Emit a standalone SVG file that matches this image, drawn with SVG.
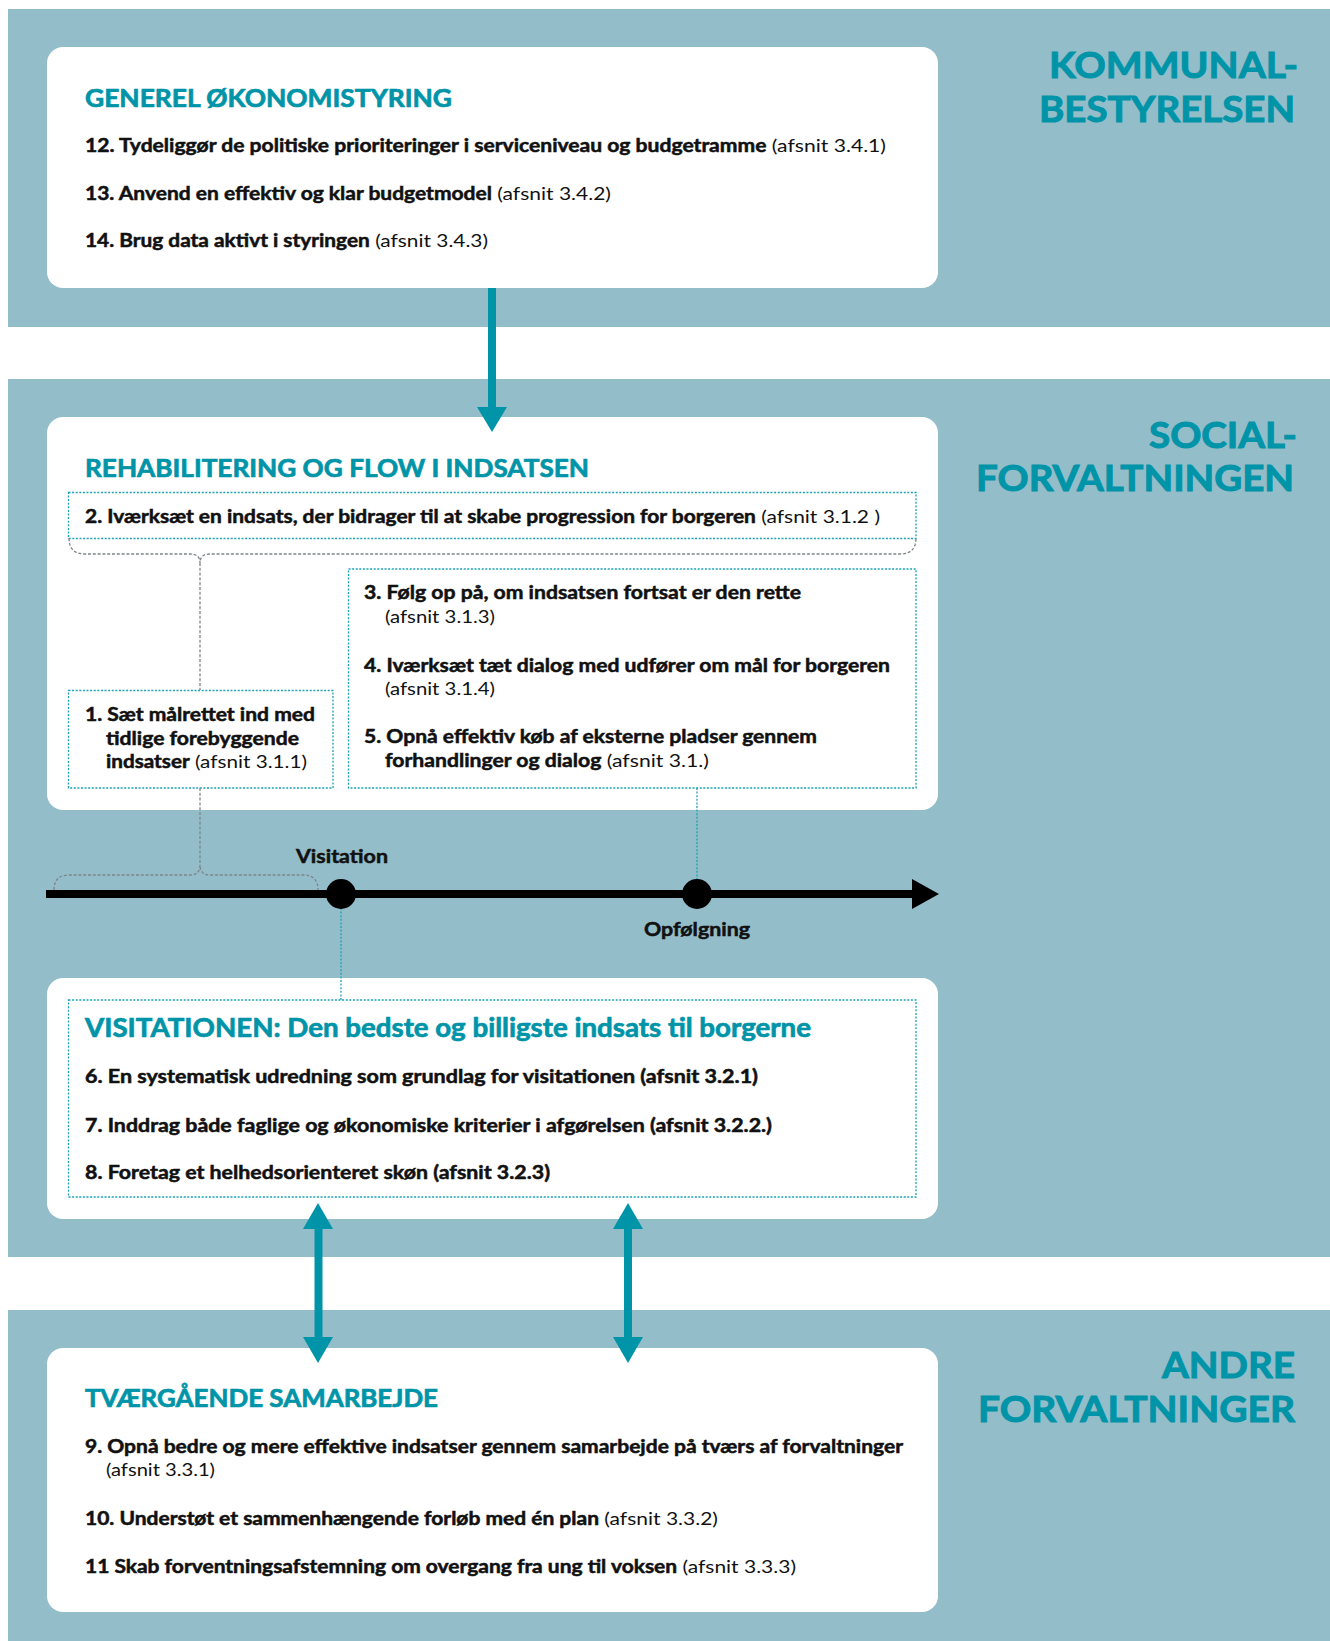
<svg xmlns="http://www.w3.org/2000/svg" width="1330" height="1641" viewBox="0 0 1330 1641">
<style>
.band{fill:#94bdca}
.box{fill:#ffffff}
.frame{fill:none;stroke:#1aa2b4;stroke-width:1.3;stroke-dasharray:2 1.6}
.brace{fill:none;stroke:#7f8589;stroke-width:1.3;stroke-dasharray:3 1.8}
.tealdot{fill:none;stroke:#1aa2b4;stroke-width:1.3;stroke-dasharray:2 1.6}
.teal{fill:#0094a8}
.side{font-family:Lato,"Open Sans","Liberation Sans",sans-serif;font-weight:700;font-size:37px;fill:#0094a8;stroke:#0094a8;stroke-width:1;text-anchor:end}
.head{font-family:Lato,"Open Sans","Liberation Sans",sans-serif;font-weight:700;font-size:24px;fill:#0094a8;stroke:#0094a8;stroke-width:0.7}
.t{font-family:Lato,"Open Sans","Liberation Sans",sans-serif;font-weight:700;font-size:18px;fill:#111111;stroke:#111111;stroke-width:0.5}
.r{font-weight:400;stroke:none}
.lbl{font-family:Lato,"Open Sans","Liberation Sans",sans-serif;font-weight:700;font-size:19px;fill:#111111;stroke:#111111;stroke-width:0.5;text-anchor:middle}
</style>

<g id="bands">
<rect class="band" x="8" y="9" width="1322" height="318"/>
<rect class="band" x="8" y="379" width="1322" height="878"/>
<rect class="band" x="8" y="1310" width="1322" height="331"/>
</g>

<g id="label-kommunalbestyrelsen">
<text class="side" x="1298" y="78" textLength="249" lengthAdjust="spacingAndGlyphs">KOMMUNAL-</text>
<text class="side" x="1295" y="122" textLength="256" lengthAdjust="spacingAndGlyphs">BESTYRELSEN</text>
</g>
<g id="label-socialforvaltningen">
<text class="side" x="1297" y="448" textLength="148" lengthAdjust="spacingAndGlyphs">SOCIAL-</text>
<text class="side" x="1294" y="491" textLength="318" lengthAdjust="spacingAndGlyphs">FORVALTNINGEN</text>
</g>
<g id="label-andre">
<text class="side" x="1295" y="1378" textLength="133" lengthAdjust="spacingAndGlyphs">ANDRE</text>
<text class="side" x="1295" y="1422" textLength="317" lengthAdjust="spacingAndGlyphs">FORVALTNINGER</text>
</g>

<g id="box-generel">
<rect class="box" x="47" y="47" width="891" height="241" rx="16"/>
<text class="head" x="85" y="107" textLength="367" lengthAdjust="spacingAndGlyphs">GENEREL ØKONOMISTYRING</text>
<text class="t" x="85" y="152" textLength="801" lengthAdjust="spacingAndGlyphs">12. Tydeliggør de politiske prioriteringer i serviceniveau og budgetramme<tspan class="r"> (afsnit 3.4.1)</tspan></text>
<text class="t" x="85" y="200" textLength="526" lengthAdjust="spacingAndGlyphs">13. Anvend en effektiv og klar budgetmodel<tspan class="r"> (afsnit 3.4.2)</tspan></text>
<text class="t" x="85" y="247" textLength="403" lengthAdjust="spacingAndGlyphs">14. Brug data aktivt i styringen<tspan class="r"> (afsnit 3.4.3)</tspan></text>
</g>

<g id="box-rehabilitering">
<rect class="box" x="47" y="417" width="891" height="393" rx="16"/>
<text class="head" x="85" y="477" textLength="504" lengthAdjust="spacingAndGlyphs">REHABILITERING OG FLOW I INDSATSEN</text>
</g>

<g id="item-2">
<rect class="frame" x="68.5" y="492.5" width="847.5" height="46"/>
<text class="t" x="85" y="523" textLength="795" lengthAdjust="spacingAndGlyphs">2. Iværksæt en indsats, der bidrager til at skabe progression for borgeren<tspan class="r"> (afsnit 3.1.2 )</tspan></text>
</g>

<g id="item-1">
<rect class="frame" x="68.5" y="690.5" width="264.5" height="97.5"/>
<text class="t" x="85" y="721" textLength="230" lengthAdjust="spacingAndGlyphs">1. Sæt målrettet ind med</text>
<text class="t" x="106" y="745" textLength="193" lengthAdjust="spacingAndGlyphs">tidlige forebyggende</text>
<text class="t" x="106" y="768" textLength="201" lengthAdjust="spacingAndGlyphs">indsatser<tspan class="r"> (afsnit 3.1.1)</tspan></text>
</g>

<g id="items-3-5">
<rect class="frame" x="348.5" y="569" width="567.5" height="219"/>
<text class="t" x="364" y="599" textLength="437" lengthAdjust="spacingAndGlyphs">3. Følg op på, om indsatsen fortsat er den rette</text>
<text class="t r" x="385" y="623" textLength="110" lengthAdjust="spacingAndGlyphs">(afsnit 3.1.3)</text>
<text class="t" x="364" y="672" textLength="526" lengthAdjust="spacingAndGlyphs">4. Iværksæt tæt dialog med udfører om mål for borgeren</text>
<text class="t r" x="385" y="695" textLength="110" lengthAdjust="spacingAndGlyphs">(afsnit 3.1.4)</text>
<text class="t" x="364" y="743" textLength="453" lengthAdjust="spacingAndGlyphs">5. Opnå effektiv køb af eksterne pladser gennem</text>
<text class="t" x="385" y="767" textLength="324" lengthAdjust="spacingAndGlyphs">forhandlinger og dialog<tspan class="r"> (afsnit 3.1.)</tspan></text>
</g>

<g id="box-visitationen">
<rect class="box" x="47" y="978" width="891" height="241" rx="16"/>
<rect class="frame" x="68.5" y="1000" width="847.5" height="197"/>
<text class="head" x="85" y="1037" style="font-size:27px" textLength="726" lengthAdjust="spacingAndGlyphs">VISITATIONEN: Den bedste og billigste indsats til borgerne</text>
<text class="t" x="85" y="1083" textLength="673" lengthAdjust="spacingAndGlyphs">6. En systematisk udredning som grundlag for visitationen (afsnit 3.2.1)</text>
<text class="t" x="85" y="1132" textLength="687" lengthAdjust="spacingAndGlyphs">7. Inddrag både faglige og økonomiske kriterier i afgørelsen (afsnit 3.2.2.)</text>
<text class="t" x="85" y="1179" textLength="465" lengthAdjust="spacingAndGlyphs">8. Foretag et helhedsorienteret skøn (afsnit 3.2.3)</text>
</g>

<g id="box-tvaergaaende">
<rect class="box" x="47" y="1348" width="891" height="264" rx="16"/>
<text class="head" x="85" y="1407" textLength="353" lengthAdjust="spacingAndGlyphs">TVÆRGÅENDE SAMARBEJDE</text>
<text class="t" x="85" y="1453" textLength="818" lengthAdjust="spacingAndGlyphs">9. Opnå bedre og mere effektive indsatser gennem samarbejde på tværs af forvaltninger</text>
<text class="t r" x="106" y="1476" textLength="109" lengthAdjust="spacingAndGlyphs">(afsnit 3.3.1)</text>
<text class="t" x="85" y="1525" textLength="633" lengthAdjust="spacingAndGlyphs">10. Understøt et sammenhængende forløb med én plan<tspan class="r"> (afsnit 3.3.2)</tspan></text>
<text class="t" x="85" y="1573" textLength="711" lengthAdjust="spacingAndGlyphs">11 Skab forventningsafstemning om overgang fra ung til voksen<tspan class="r"> (afsnit 3.3.3)</tspan></text>
</g>

<g id="connectors">
<rect class="teal" x="488" y="288" width="8" height="121"/>
<polygon class="teal" points="477,407 507,407 492,432"/>
<path class="brace" d="M69,538 Q69,554 85,554 L190,554 Q200,554 200,563 Q200,554 210,554 L900,554 Q916,554 916,538"/>
<path class="brace" d="M200,563 V690"/>
<path class="brace" d="M200,788 V865"/>
<path class="brace" d="M54,890 Q54,875 69,875 L190,875 Q200,875 200,865 Q200,875 210,875 L303,875 Q318,875 318,890"/>
<path class="tealdot" d="M697,788 V880"/>
<path class="tealdot" d="M341,908 V1000"/>
<rect x="46" y="890" width="868" height="8" fill="#000000"/>
<polygon points="912,879 939,894 912,909" fill="#000000"/>
<circle cx="341" cy="894" r="15" fill="#000000"/>
<circle cx="697" cy="894" r="15" fill="#000000"/>
<rect class="teal" x="314.5" y="1226" width="8" height="114"/>
<polygon class="teal" points="303,1229 333,1229 318,1203"/>
<polygon class="teal" points="303,1337 333,1337 318,1363"/>
<rect class="teal" x="624" y="1226" width="8" height="114"/>
<polygon class="teal" points="613,1229 643,1229 628,1203"/>
<polygon class="teal" points="613,1337 643,1337 628,1363"/>
</g>

<g id="timeline-labels">
<text class="lbl" x="342" y="863" textLength="92" lengthAdjust="spacingAndGlyphs">Visitation</text>
<text class="lbl" x="697" y="936" textLength="106" lengthAdjust="spacingAndGlyphs">Opfølgning</text>
</g>
</svg>
